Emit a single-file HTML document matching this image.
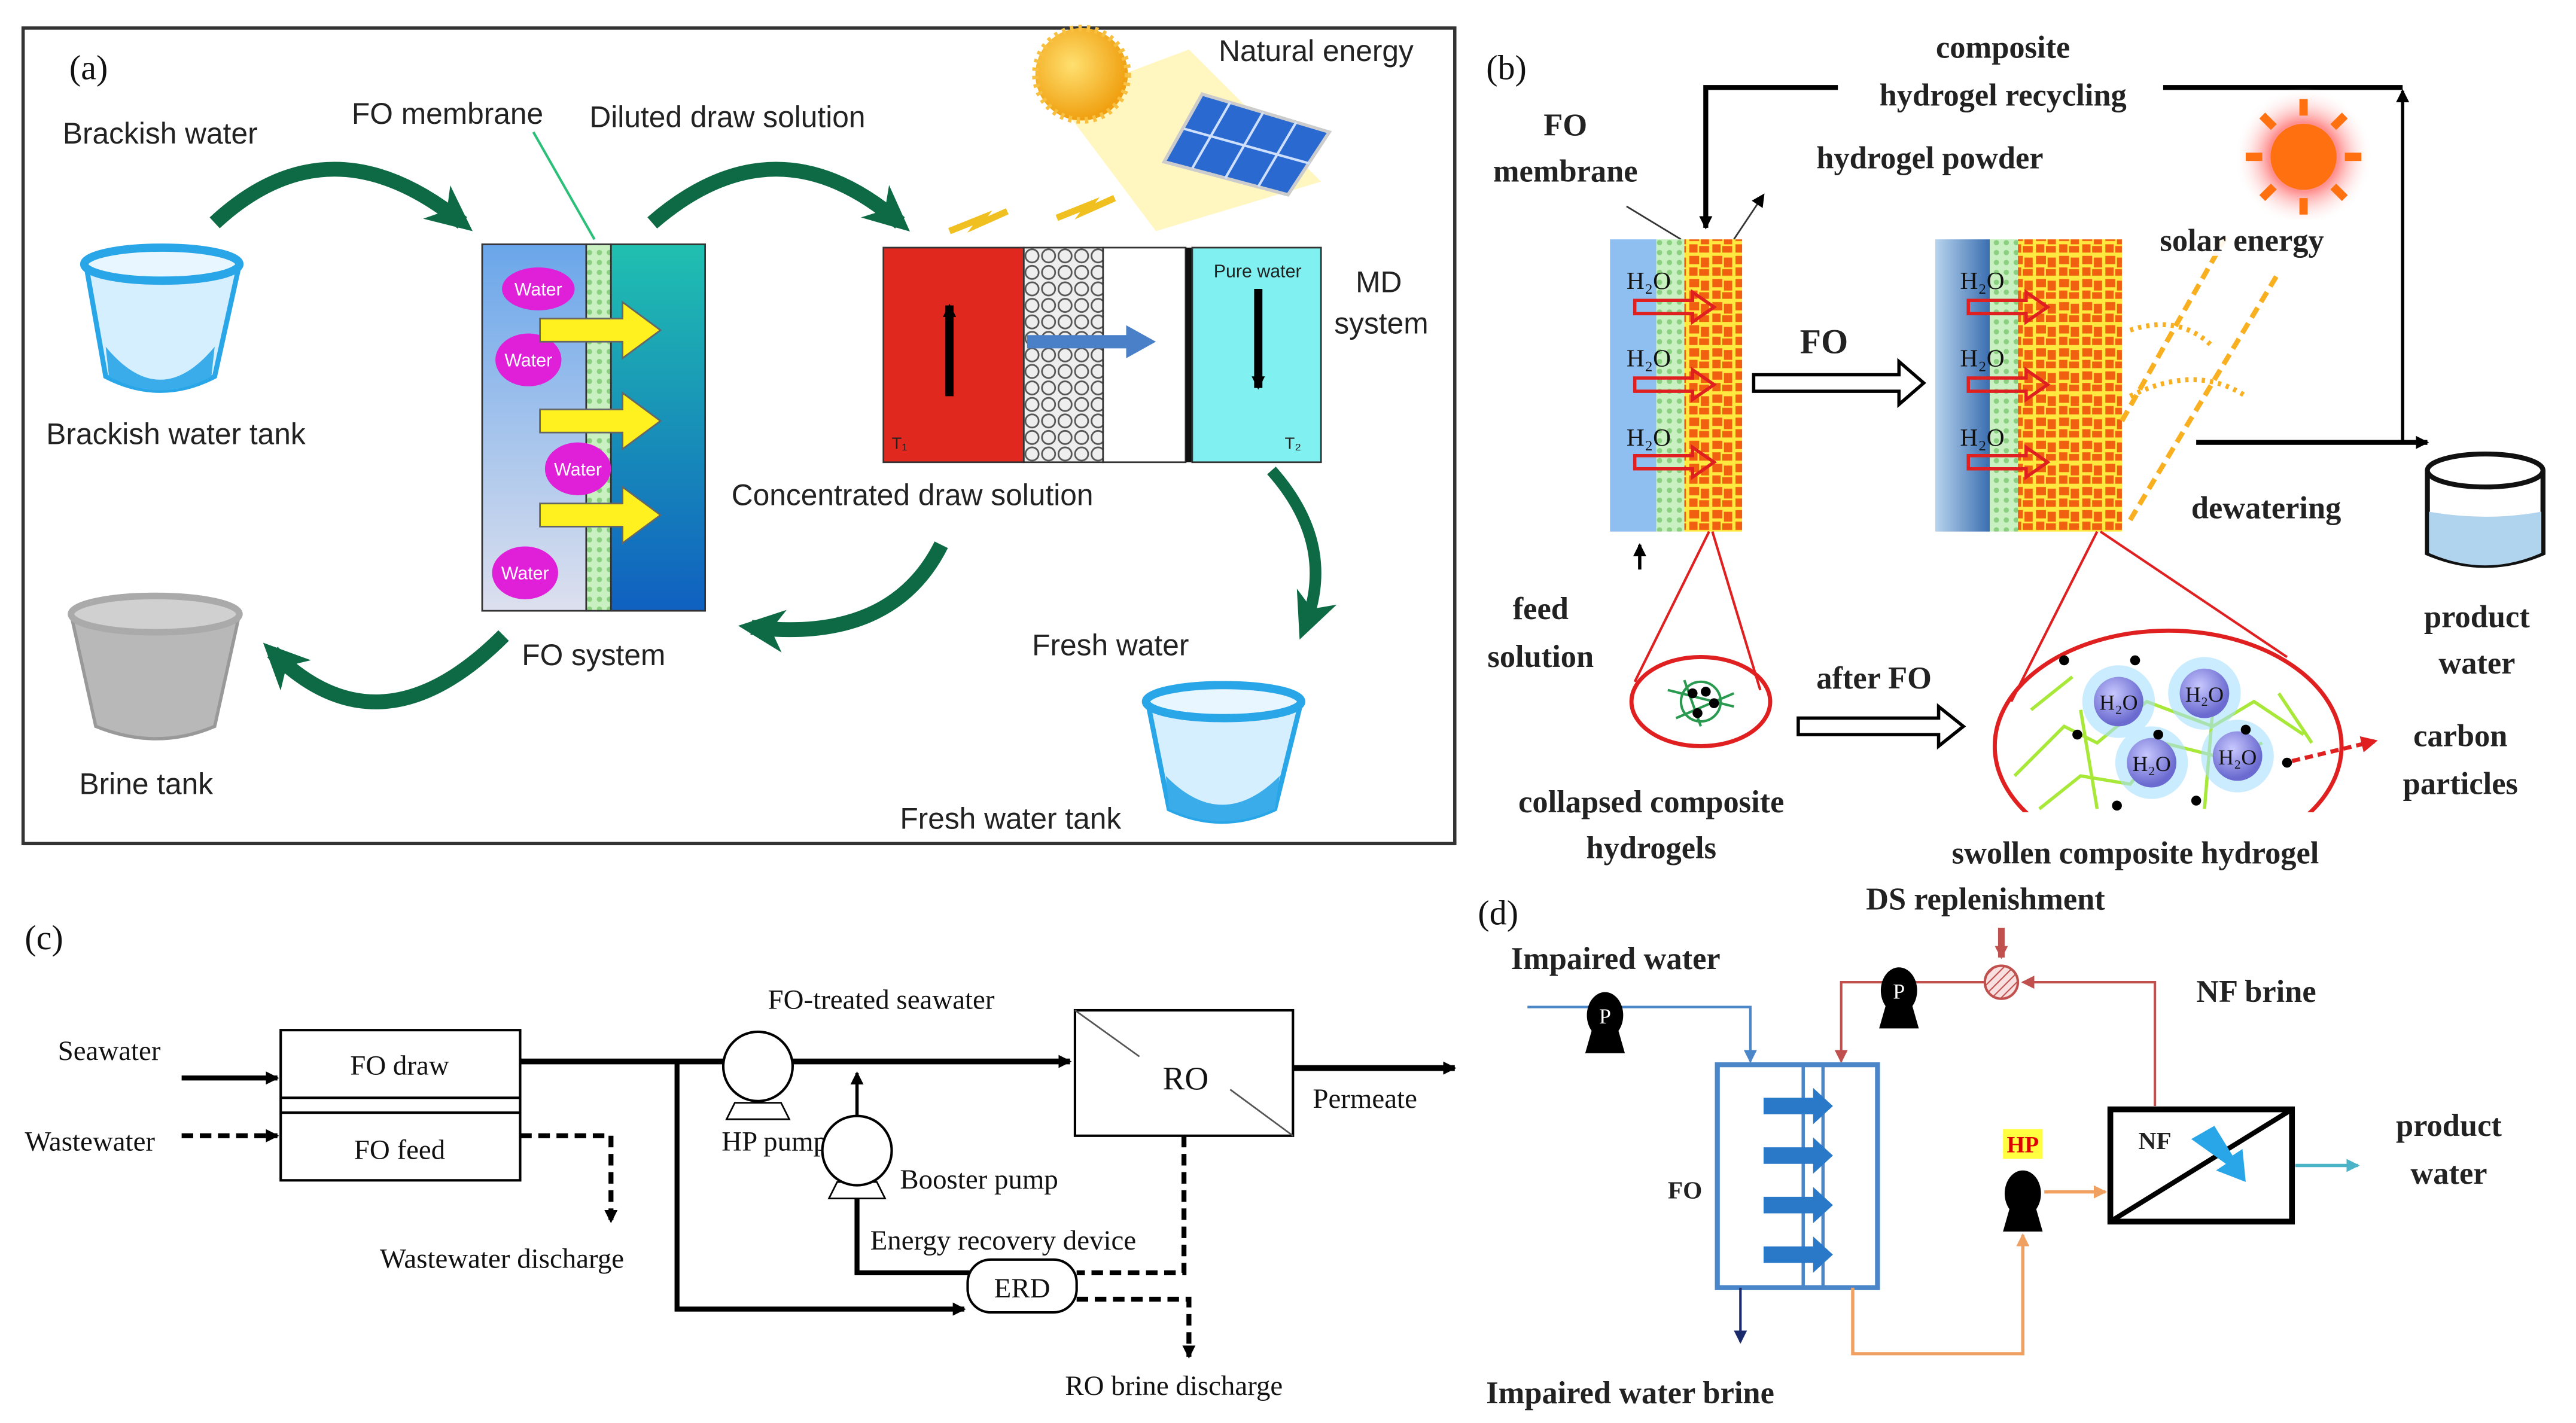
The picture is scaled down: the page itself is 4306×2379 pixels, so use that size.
<!DOCTYPE html>
<html><head><meta charset="utf-8"><style>
html,body{margin:0;padding:0;background:#fff;}
svg{display:block;}
.s{font-family:"Liberation Sans",sans-serif;fill:#222;}
.t{font-family:"Liberation Serif",serif;fill:#111;}
.b{font-family:"Liberation Serif",serif;font-weight:bold;fill:#222;}
.w{fill:#fff !important;}
</style></head><body>
<svg width="4306" height="2379" viewBox="0 0 1560 862" preserveAspectRatio="none" xmlns="http://www.w3.org/2000/svg">
<defs>
<marker id="ak" markerWidth="8" markerHeight="8" refX="7" refY="4" orient="auto" markerUnits="userSpaceOnUse"><path d="M0,0 L8,4 L0,8 z" fill="#000"/></marker>
<marker id="ag" markerWidth="30" markerHeight="30" refX="20" refY="15" orient="auto" markerUnits="userSpaceOnUse"><path d="M0,2 L28,15 L0,28 L8,15 z" fill="#0d6a45"/></marker>
<marker id="ab" markerWidth="8" markerHeight="8" refX="7" refY="4" orient="auto" markerUnits="userSpaceOnUse"><path d="M0,0 L8,4 L0,8 z" fill="#4a86c8"/></marker>
<marker id="ar" markerWidth="8" markerHeight="8" refX="7" refY="4" orient="auto" markerUnits="userSpaceOnUse"><path d="M0,0 L8,4 L0,8 z" fill="#c0504d"/></marker>
<marker id="ao" markerWidth="8" markerHeight="8" refX="7" refY="4" orient="auto" markerUnits="userSpaceOnUse"><path d="M0,0 L8,4 L0,8 z" fill="#f0a060"/></marker>
<marker id="ac" markerWidth="8" markerHeight="8" refX="7" refY="4" orient="auto" markerUnits="userSpaceOnUse"><path d="M0,0 L8,4 L0,8 z" fill="#4bb3c8"/></marker>
<marker id="an" markerWidth="8" markerHeight="8" refX="7" refY="4" orient="auto" markerUnits="userSpaceOnUse"><path d="M0,0 L8,4 L0,8 z" fill="#1a2a6a"/></marker>
<marker id="ad" markerWidth="10" markerHeight="10" refX="8" refY="5" orient="auto" markerUnits="userSpaceOnUse"><path d="M0,0 L10,5 L0,10 z" fill="#e02020"/></marker>
<linearGradient id="fl" x1="0" y1="0" x2="0" y2="1"><stop offset="0" stop-color="#6aa6ea"/><stop offset="1" stop-color="#dde0ee"/></linearGradient>
<linearGradient id="fr" x1="0" y1="0" x2="0" y2="1"><stop offset="0" stop-color="#20c0b0"/><stop offset="1" stop-color="#1060c0"/></linearGradient>
<linearGradient id="mb" x1="0" y1="0" x2="1" y2="0"><stop offset="0" stop-color="#b8d4ee"/><stop offset="1" stop-color="#3a6eb0"/></linearGradient>
<radialGradient id="sun" cx="0.4" cy="0.4" r="0.6"><stop offset="0" stop-color="#ffe070"/><stop offset="1" stop-color="#f0a010"/></radialGradient>
<radialGradient id="glow"><stop offset="0.5" stop-color="#ff9090"/><stop offset="1" stop-color="#fff" stop-opacity="0"/></radialGradient>
<radialGradient id="h2o" cx="0.4" cy="0.35" r="0.6"><stop offset="0" stop-color="#c8c8ff"/><stop offset="1" stop-color="#6a6ad0"/></radialGradient>
<pattern id="dots" width="6" height="6" patternUnits="userSpaceOnUse"><rect width="6" height="6" fill="#c8f0c0"/><circle cx="3" cy="3" r="1.6" fill="#8ad080"/></pattern>
<pattern id="bub" width="10" height="10" patternUnits="userSpaceOnUse"><rect width="10" height="10" fill="#eee"/><circle cx="5" cy="5" r="4" fill="none" stroke="#555" stroke-width="1"/></pattern>
<pattern id="hatch" width="4" height="4" patternUnits="userSpaceOnUse" patternTransform="rotate(45)"><rect width="4" height="4" fill="#f8e0e0"/><line x1="0" y1="0" x2="0" y2="4" stroke="#c0504d" stroke-width="1.5"/></pattern>
<pattern id="gel" width="14" height="14" patternUnits="userSpaceOnUse"><rect width="14" height="14" fill="#ffe840"/><path d="M1,1 h6 v5 h-6z M8,2 h5 v6 h-5z M1,8 h5 v5 h-5z M7,9 h6 v4 h-6z" fill="#f06010"/></pattern>
<clipPath id="cl"><rect x="1150" y="300" width="300" height="192"/></clipPath>
</defs>

<!-- ========== (a) ========== -->
<rect x="14" y="17" width="867" height="494" fill="#fff" stroke="#333" stroke-width="2"/>
<text x="42" y="48" class="t" font-size="21">(a)</text>
<text x="38" y="87" class="s" font-size="18">Brackish water</text>
<text x="213" y="75" class="s" font-size="18">FO membrane</text>
<text x="357" y="77" class="s" font-size="18">Diluted draw solution</text>
<text x="738" y="37" class="s" font-size="18">Natural energy</text>
<text x="28" y="269" class="s" font-size="18">Brackish water tank</text>
<text x="821" y="177" class="s" font-size="18">MD</text>
<text x="808" y="202" class="s" font-size="18">system</text>
<text x="443" y="306" class="s" font-size="18">Concentrated draw solution</text>
<text x="316" y="403" class="s" font-size="18">FO system</text>
<text x="48" y="481" class="s" font-size="18">Brine tank</text>
<text x="625" y="397" class="s" font-size="18">Fresh water</text>
<text x="545" y="502" class="s" font-size="18">Fresh water tank</text>
<path d="M130,135 Q200,70 280,135" fill="none" stroke="#0d6a45" stroke-width="9" marker-end="url(#ag)"/>
<path d="M395,135 Q470,70 545,135" fill="none" stroke="#0d6a45" stroke-width="9" marker-end="url(#ag)"/>
<path d="M570,330 Q540,390 455,380" fill="none" stroke="#0d6a45" stroke-width="9" marker-end="url(#ag)"/>
<path d="M305,385 Q230,460 165,395" fill="none" stroke="#0d6a45" stroke-width="9" marker-end="url(#ag)"/>
<path d="M770,285 Q810,330 790,380" fill="none" stroke="#0d6a45" stroke-width="7" marker-end="url(#ag)"/>
<line x1="323" y1="80" x2="360" y2="145" stroke="#2cbf7a" stroke-width="1.5"/>
<path d="M52,160 L64,228 Q97,245 130,228 L145,160 z" fill="#d6efff" stroke="#29a6e8" stroke-width="3"/>
<ellipse cx="98" cy="160" rx="47" ry="10" fill="#e8f6ff" stroke="#29a6e8" stroke-width="5"/>
<path d="M64,210 Q97,250 130,210 L128,228 Q97,245 66,228z" fill="#3aacea"/>
<path d="M43,372 L58,440 Q95,455 130,440 L145,372 z" fill="#b8b8b8" stroke="#999" stroke-width="2"/>
<ellipse cx="94" cy="372" rx="51" ry="11" fill="#d0d0d0" stroke="#aaa" stroke-width="4"/>
<path d="M695,425 L708,490 Q740,505 772,490 L788,425 z" fill="#d6efff" stroke="#29a6e8" stroke-width="3"/>
<ellipse cx="741" cy="425" rx="47" ry="10" fill="#e8f6ff" stroke="#29a6e8" stroke-width="5"/>
<path d="M706,470 Q740,505 775,470 L772,490 Q740,505 708,490z" fill="#3aacea"/>
<rect x="292" y="148" width="63" height="222" fill="url(#fl)" stroke="#333"/>
<rect x="355" y="148" width="15" height="222" fill="url(#dots)" stroke="#333"/>
<rect x="370" y="148" width="57" height="222" fill="url(#fr)" stroke="#333"/>
<g fill="#e020d8"><ellipse cx="326" cy="175" rx="22" ry="13"/><ellipse cx="320" cy="218" rx="20" ry="16"/><ellipse cx="350" cy="284" rx="20" ry="16"/><ellipse cx="318" cy="347" rx="20" ry="16"/></g>
<g class="s w" font-size="11" text-anchor="middle"><text x="326" y="179" class="s w">Water</text><text x="320" y="222" class="s w">Water</text><text x="350" y="288" class="s w">Water</text><text x="318" y="351" class="s w">Water</text></g>
<g fill="#fff020" stroke="#666" stroke-width="1">
<path d="M327,193 h50 v-10 l23,17 -23,17 v-10 h-50z"/>
<path d="M327,248 h50 v-10 l23,17 -23,17 v-10 h-50z"/>
<path d="M327,305 h50 v-10 l23,17 -23,17 v-10 h-50z"/>
</g>
<rect x="535" y="150" width="85" height="130" fill="#e0281e" stroke="#333"/>
<rect x="620" y="150" width="48" height="130" fill="url(#bub)" stroke="#333"/>
<rect x="668" y="150" width="50" height="130" fill="#fff" stroke="#333"/>
<rect x="718" y="150" width="4" height="130" fill="#111"/>
<rect x="722" y="150" width="78" height="130" fill="#80f0f0" stroke="#333"/>
<line x1="575" y1="240" x2="575" y2="185" stroke="#000" stroke-width="5" marker-end="url(#ak)"/>
<line x1="762" y1="175" x2="762" y2="235" stroke="#000" stroke-width="5" marker-end="url(#ak)"/>
<path d="M622,203 h60 v-6 l18,10 -18,10 v-6 h-60z" fill="#4a80c8"/>
<text x="735" y="168" class="s" font-size="11">Pure water</text>
<text x="540" y="272" class="s" font-size="10">T₁</text>
<text x="778" y="272" class="s" font-size="10">T₂</text>
<polygon points="640,60 720,30 800,110 700,140" fill="#fff4b0" opacity="0.8"/>
<circle cx="655" cy="45" r="28" fill="url(#sun)" stroke="#f8c040" stroke-width="4" stroke-dasharray="2 3"/>
<polygon points="728,57 805,80 780,118 705,98" fill="#2a6ad0" stroke="#ccc" stroke-width="2"/>
<g stroke="#cfe0ff" stroke-width="1.5"><line x1="745" y1="62" x2="722" y2="102"/><line x1="765" y1="68" x2="742" y2="108"/><line x1="785" y1="74" x2="762" y2="113"/><line x1="717" y1="78" x2="793" y2="99"/></g>
<path d="M575,140 l20,-8 -3,4 18,-8 M640,132 l20,-8 -3,4 18,-8" stroke="#f0c020" stroke-width="4" fill="none"/>

<!-- ========== (b) ========== -->
<text x="900" y="48" class="t" font-size="21">(b)</text>
<text x="1213" y="35" class="b" font-size="19" text-anchor="middle">composite</text>
<text x="1213" y="64" class="b" font-size="19" text-anchor="middle">hydrogel recycling</text>
<polyline points="1113,53 1033,53 1033,138" fill="none" stroke="#000" stroke-width="3" marker-end="url(#ak)"/>
<polyline points="1310,53 1455,53" fill="none" stroke="#000" stroke-width="3"/>
<line x1="1455" y1="268" x2="1455" y2="55" stroke="#000" stroke-width="2" marker-end="url(#ak)"/>
<text x="948" y="82" class="b" font-size="19" text-anchor="middle">FO</text>
<text x="948" y="110" class="b" font-size="19" text-anchor="middle">membrane</text>
<text x="1100" y="102" class="b" font-size="19">hydrogel powder</text>
<line x1="985" y1="125" x2="1018" y2="145" stroke="#333" stroke-width="1"/>
<line x1="1050" y1="145" x2="1068" y2="118" stroke="#333" stroke-width="1" marker-end="url(#ak)"/>
<rect x="975" y="145" width="28" height="177" fill="#8fbef0"/>
<rect x="1003" y="145" width="17" height="177" fill="url(#dots)"/>
<rect x="1020" y="145" width="35" height="177" fill="url(#gel)"/>
<rect x="1172" y="145" width="33" height="177" fill="url(#mb)"/>
<rect x="1205" y="145" width="17" height="177" fill="url(#dots)"/>
<rect x="1222" y="145" width="63" height="177" fill="url(#gel)"/>
<g class="t" font-size="15">
<text x="985" y="175">H₂O</text><text x="985" y="222">H₂O</text><text x="985" y="270">H₂O</text>
<text x="1187" y="175">H₂O</text><text x="1187" y="222">H₂O</text><text x="1187" y="270">H₂O</text>
</g>
<g fill="none" stroke="#e02020" stroke-width="2">
<path d="M990,182 h35 v-5 l13,9 -13,9 v-5 h-35z"/><path d="M990,229 h35 v-5 l13,9 -13,9 v-5 h-35z"/><path d="M990,276 h35 v-5 l13,9 -13,9 v-5 h-35z"/>
<path d="M1192,182 h35 v-5 l13,9 -13,9 v-5 h-35z"/><path d="M1192,229 h35 v-5 l13,9 -13,9 v-5 h-35z"/><path d="M1192,276 h35 v-5 l13,9 -13,9 v-5 h-35z"/>
</g>
<path d="M1062,227 h88 v-8 l15,13 -15,13 v-8 h-88z" fill="#fff" stroke="#000" stroke-width="2"/>
<text x="1090" y="214" class="b" font-size="21">FO</text>
<circle cx="1395" cy="95" r="42" fill="url(#glow)"/>
<circle cx="1395" cy="95" r="20" fill="#ff7010"/>
<g stroke="#ff7010" stroke-width="5"><line x1="1395" y1="60" x2="1395" y2="70"/><line x1="1395" y1="120" x2="1395" y2="130"/><line x1="1360" y1="95" x2="1370" y2="95"/><line x1="1420" y1="95" x2="1430" y2="95"/><line x1="1370" y1="70" x2="1377" y2="77"/><line x1="1413" y1="113" x2="1420" y2="120"/><line x1="1420" y1="70" x2="1413" y2="77"/><line x1="1370" y1="120" x2="1377" y2="113"/></g>
<g stroke="#f8b020" stroke-width="3" stroke-dasharray="7 4" fill="none"><line x1="1290" y1="315" x2="1380" y2="165"/><line x1="1285" y1="255" x2="1350" y2="140"/><path d="M1290,200 Q1320,190 1340,210" stroke-dasharray="2 3"/><path d="M1290,240 Q1330,220 1360,240" stroke-dasharray="2 3"/></g>
<rect x="1306" y="133" width="120" height="22" fill="#fff" opacity="0.9"/>
<text x="1308" y="152" class="b" font-size="19">solar energy</text>
<line x1="1330" y1="268" x2="1470" y2="268" stroke="#000" stroke-width="3" marker-end="url(#ak)"/>
<text x="1327" y="314" class="b" font-size="19">dewatering</text>
<path d="M1470,285 v50 q35,15 70,0 v-50" fill="#fff" stroke="#111" stroke-width="3"/>
<path d="M1471,310 q35,6 68,0 v25 q-34,15 -68,0z" fill="#b0d4ee"/>
<ellipse cx="1505" cy="285" rx="35" ry="10" fill="#fff" stroke="#111" stroke-width="3"/>
<text x="1500" y="380" class="b" font-size="19" text-anchor="middle">product</text>
<text x="1500" y="408" class="b" font-size="19" text-anchor="middle">water</text>
<line x1="993" y1="345" x2="993" y2="330" stroke="#000" stroke-width="2" marker-end="url(#ak)"/>
<text x="933" y="375" class="b" font-size="19" text-anchor="middle">feed</text>
<text x="933" y="404" class="b" font-size="19" text-anchor="middle">solution</text>
<g stroke="#e02020" stroke-width="1.5" fill="none">
<line x1="1035" y1="322" x2="990" y2="413"/><line x1="1037" y1="322" x2="1066" y2="418"/>
<ellipse cx="1030" cy="425" rx="42" ry="27" stroke-width="2.5"/>
<line x1="1270" y1="322" x2="1218" y2="425"/><line x1="1272" y1="322" x2="1385" y2="398"/>
<ellipse cx="1313" cy="452" rx="105" ry="70" stroke-width="2.5" clip-path="url(#cl)"/>
</g>
<g stroke="#2a9a50" stroke-width="1.5" fill="none"><circle cx="1030" cy="425" r="12"/><path d="M1010,418 l40,10 M1015,435 l35,-15 M1020,412 l10,28"/></g>
<g fill="#000"><circle cx="1025" cy="420" r="3"/><circle cx="1033" cy="419" r="3"/><circle cx="1038" cy="426" r="3"/><circle cx="1028" cy="432" r="3"/></g>
<g clip-path="url(#cl)">
<g stroke="#a8e838" stroke-width="2" fill="none"><path d="M1220,470 l30,-30 20,10 30,-25 40,15 25,-15 30,20 M1235,490 l25,-20 30,5 20,-25 40,10 20,-10 M1260,430 l10,60 M1340,430 l-5,60 M1230,430 l25,-20 M1380,420 l20,30"/></g>
<g fill="#a8e0ff" opacity="0.6"><circle cx="1283" cy="425" r="22"/><circle cx="1335" cy="420" r="22"/><circle cx="1303" cy="462" r="22"/><circle cx="1355" cy="458" r="22"/></g>
<g fill="url(#h2o)"><circle cx="1283" cy="425" r="15"/><circle cx="1335" cy="420" r="15"/><circle cx="1303" cy="462" r="15"/><circle cx="1355" cy="458" r="15"/></g>
<g class="t" font-size="13" text-anchor="middle"><text x="1283" y="430">H₂O</text><text x="1335" y="425">H₂O</text><text x="1303" y="467">H₂O</text><text x="1355" y="463">H₂O</text></g>
<g fill="#000"><circle cx="1250" cy="400" r="3"/><circle cx="1293" cy="400" r="3"/><circle cx="1360" cy="442" r="3"/><circle cx="1258" cy="445" r="3"/><circle cx="1307" cy="445" r="3"/><circle cx="1282" cy="488" r="3"/><circle cx="1330" cy="485" r="3"/><circle cx="1385" cy="462" r="3"/></g>
</g>
<line x1="1388" y1="461" x2="1438" y2="449" stroke="#e02020" stroke-width="2.5" stroke-dasharray="5 3" marker-end="url(#ad)"/>
<path d="M1089,435 h85 v-7 l15,12 -15,12 v-7 h-85z" fill="#fff" stroke="#000" stroke-width="2"/>
<text x="1100" y="417" class="b" font-size="19">after FO</text>
<text x="1000" y="492" class="b" font-size="19" text-anchor="middle">collapsed composite</text>
<text x="1000" y="520" class="b" font-size="19" text-anchor="middle">hydrogels</text>
<text x="1182" y="523" class="b" font-size="19">swollen composite hydrogel</text>
<text x="1490" y="452" class="b" font-size="19" text-anchor="middle">carbon</text>
<text x="1490" y="481" class="b" font-size="19" text-anchor="middle">particles</text>

<!-- ========== (c) ========== -->
<text x="15" y="575" class="t" font-size="21">(c)</text>
<text x="35" y="642" class="t" font-size="17">Seawater</text>
<text x="15" y="697" class="t" font-size="17">Wastewater</text>
<line x1="110" y1="653" x2="168" y2="653" stroke="#000" stroke-width="3" marker-end="url(#ak)"/>
<line x1="110" y1="688" x2="168" y2="688" stroke="#000" stroke-width="3" stroke-dasharray="7 4" marker-end="url(#ak)"/>
<rect x="170" y="624" width="145" height="91" fill="#fff" stroke="#000" stroke-width="1.5"/>
<line x1="170" y1="665" x2="315" y2="665" stroke="#000" stroke-width="1.5"/><line x1="170" y1="674" x2="315" y2="674" stroke="#000" stroke-width="1.5"/>
<text x="242" y="651" class="t" font-size="17" text-anchor="middle">FO draw</text>
<text x="242" y="702" class="t" font-size="17" text-anchor="middle">FO feed</text>
<line x1="315" y1="643" x2="648" y2="643" stroke="#000" stroke-width="3.5" marker-end="url(#ak)"/>
<text x="465" y="611" class="t" font-size="17">FO-treated seawater</text>
<path d="M445,668 l-5,10 h38 l-5,-10z" fill="#fff" stroke="#000"/>
<circle cx="459" cy="646" r="21" fill="#fff" stroke="#000" stroke-width="1.5"/>
<text x="437" y="697" class="t" font-size="17">HP pump</text>
<line x1="519" y1="676" x2="519" y2="650" stroke="#000" stroke-width="2" marker-end="url(#ak)"/>
<path d="M507,716 l-5,10 h34 l-5,-10z" fill="#fff" stroke="#000"/>
<circle cx="519" cy="697" r="21" fill="#fff" stroke="#000" stroke-width="1.5"/>
<text x="545" y="720" class="t" font-size="17">Booster pump</text>
<rect x="651" y="612" width="132" height="76" fill="#fff" stroke="#000" stroke-width="1.5"/>
<line x1="651" y1="612" x2="690" y2="640" stroke="#555"/><line x1="745" y1="660" x2="783" y2="688" stroke="#555"/>
<text x="718" y="660" class="t" font-size="20" text-anchor="middle">RO</text>
<line x1="783" y1="647" x2="881" y2="647" stroke="#000" stroke-width="3.5" marker-end="url(#ak)"/>
<text x="795" y="671" class="t" font-size="17">Permeate</text>
<polyline points="410,643 410,793 584,793" fill="none" stroke="#000" stroke-width="3" marker-end="url(#ak)"/>
<polyline points="519,726 519,771 588,771" fill="none" stroke="#000" stroke-width="3"/>
<rect x="586" y="763" width="66" height="32" rx="14" fill="#fff" stroke="#000" stroke-width="1.5"/>
<text x="619" y="786" class="t" font-size="17" text-anchor="middle">ERD</text>
<text x="527" y="757" class="t" font-size="17">Energy recovery device</text>
<polyline points="315,688 370,688 370,740" fill="none" stroke="#000" stroke-width="3" stroke-dasharray="7 4" marker-end="url(#ak)"/>
<text x="230" y="768" class="t" font-size="17">Wastewater discharge</text>
<polyline points="717,688 717,771 652,771" fill="none" stroke="#000" stroke-width="3" stroke-dasharray="7 4"/>
<polyline points="652,787 720,787 720,822" fill="none" stroke="#000" stroke-width="3" stroke-dasharray="7 4" marker-end="url(#ak)"/>
<text x="645" y="845" class="t" font-size="17">RO brine discharge</text>

<!-- ========== (d) ========== -->
<text x="895" y="560" class="t" font-size="21">(d)</text>
<text x="1130" y="551" class="b" font-size="19">DS replenishment</text>
<text x="915" y="587" class="b" font-size="19">Impaired water</text>
<text x="1330" y="607" class="b" font-size="19">NF brine</text>
<polyline points="925,610 1060,610 1060,643" fill="none" stroke="#4a86c8" stroke-width="1.5" marker-end="url(#ab)"/>
<polyline points="1305,670 1305,595 1225,595" fill="none" stroke="#c0504d" stroke-width="1.5" marker-end="url(#ar)"/>
<line x1="1212" y1="562" x2="1212" y2="580" stroke="#c0504d" stroke-width="4" marker-end="url(#ar)"/>
<circle cx="1212" cy="595" r="10" fill="url(#hatch)" stroke="#c0504d" stroke-width="1.5"/>
<polyline points="1202,595 1115,595 1115,643" fill="none" stroke="#c0504d" stroke-width="1.5" marker-end="url(#ar)"/>
<path d="M964,624 l-4,14 h24 l-4,-14z" fill="#000"/><ellipse cx="972" cy="615" rx="11" ry="14" fill="#000"/>
<text x="972" y="620" class="t w" font-size="13" text-anchor="middle">P</text>
<path d="M1142,609 l-4,14 h24 l-4,-14z" fill="#000"/><ellipse cx="1150" cy="600" rx="11" ry="14" fill="#000"/>
<text x="1150" y="605" class="t w" font-size="13" text-anchor="middle">P</text>
<path d="M1217,732 l-4,14 h24 l-4,-14z" fill="#000"/><ellipse cx="1225" cy="723" rx="11" ry="14" fill="#000"/>
<rect x="1213" y="684" width="24" height="18" fill="#ffff40"/>
<text x="1225" y="698" class="b" font-size="14" fill="#e00000" style="fill:#e00000" text-anchor="middle">HP</text>
<rect x="1040" y="645" width="97" height="135" fill="#fff" stroke="#4a86c8" stroke-width="3"/>
<line x1="1092" y1="645" x2="1092" y2="780" stroke="#4a86c8" stroke-width="2"/>
<line x1="1104" y1="645" x2="1104" y2="780" stroke="#4a86c8" stroke-width="2"/>
<g fill="#2a78c8"><path d="M1068,665 h30 v-6 l12,11 -12,11 v-6 h-30z"/><path d="M1068,695 h30 v-6 l12,11 -12,11 v-6 h-30z"/><path d="M1068,725 h30 v-6 l12,11 -12,11 v-6 h-30z"/><path d="M1068,755 h30 v-6 l12,11 -12,11 v-6 h-30z"/></g>
<text x="1010" y="726" class="b" font-size="15">FO</text>
<line x1="1054" y1="780" x2="1054" y2="813" stroke="#1a2a6a" stroke-width="1.5" marker-end="url(#an)"/>
<polyline points="1122,780 1122,820 1225,820 1225,748" fill="none" stroke="#f0a060" stroke-width="2" marker-end="url(#ao)"/>
<line x1="1238" y1="722" x2="1275" y2="722" stroke="#f0a060" stroke-width="2" marker-end="url(#ao)"/>
<rect x="1278" y="672" width="110" height="68" fill="#fff" stroke="#000" stroke-width="3.5"/>
<line x1="1278" y1="740" x2="1388" y2="672" stroke="#000" stroke-width="3"/>
<text x="1295" y="696" class="b" font-size="15">NF</text>
<path d="M1327,690 l14,-8 11,18 6,-4 2,20 -18,-7 6,-4z" fill="#29a6e8"/>
<line x1="1390" y1="706" x2="1428" y2="706" stroke="#4bb3c8" stroke-width="2" marker-end="url(#ac)"/>
<text x="1483" y="688" class="b" font-size="19" text-anchor="middle">product</text>
<text x="1483" y="717" class="b" font-size="19" text-anchor="middle">water</text>
<text x="900" y="850" class="b" font-size="19">Impaired water brine</text>
</svg>
</body></html>
